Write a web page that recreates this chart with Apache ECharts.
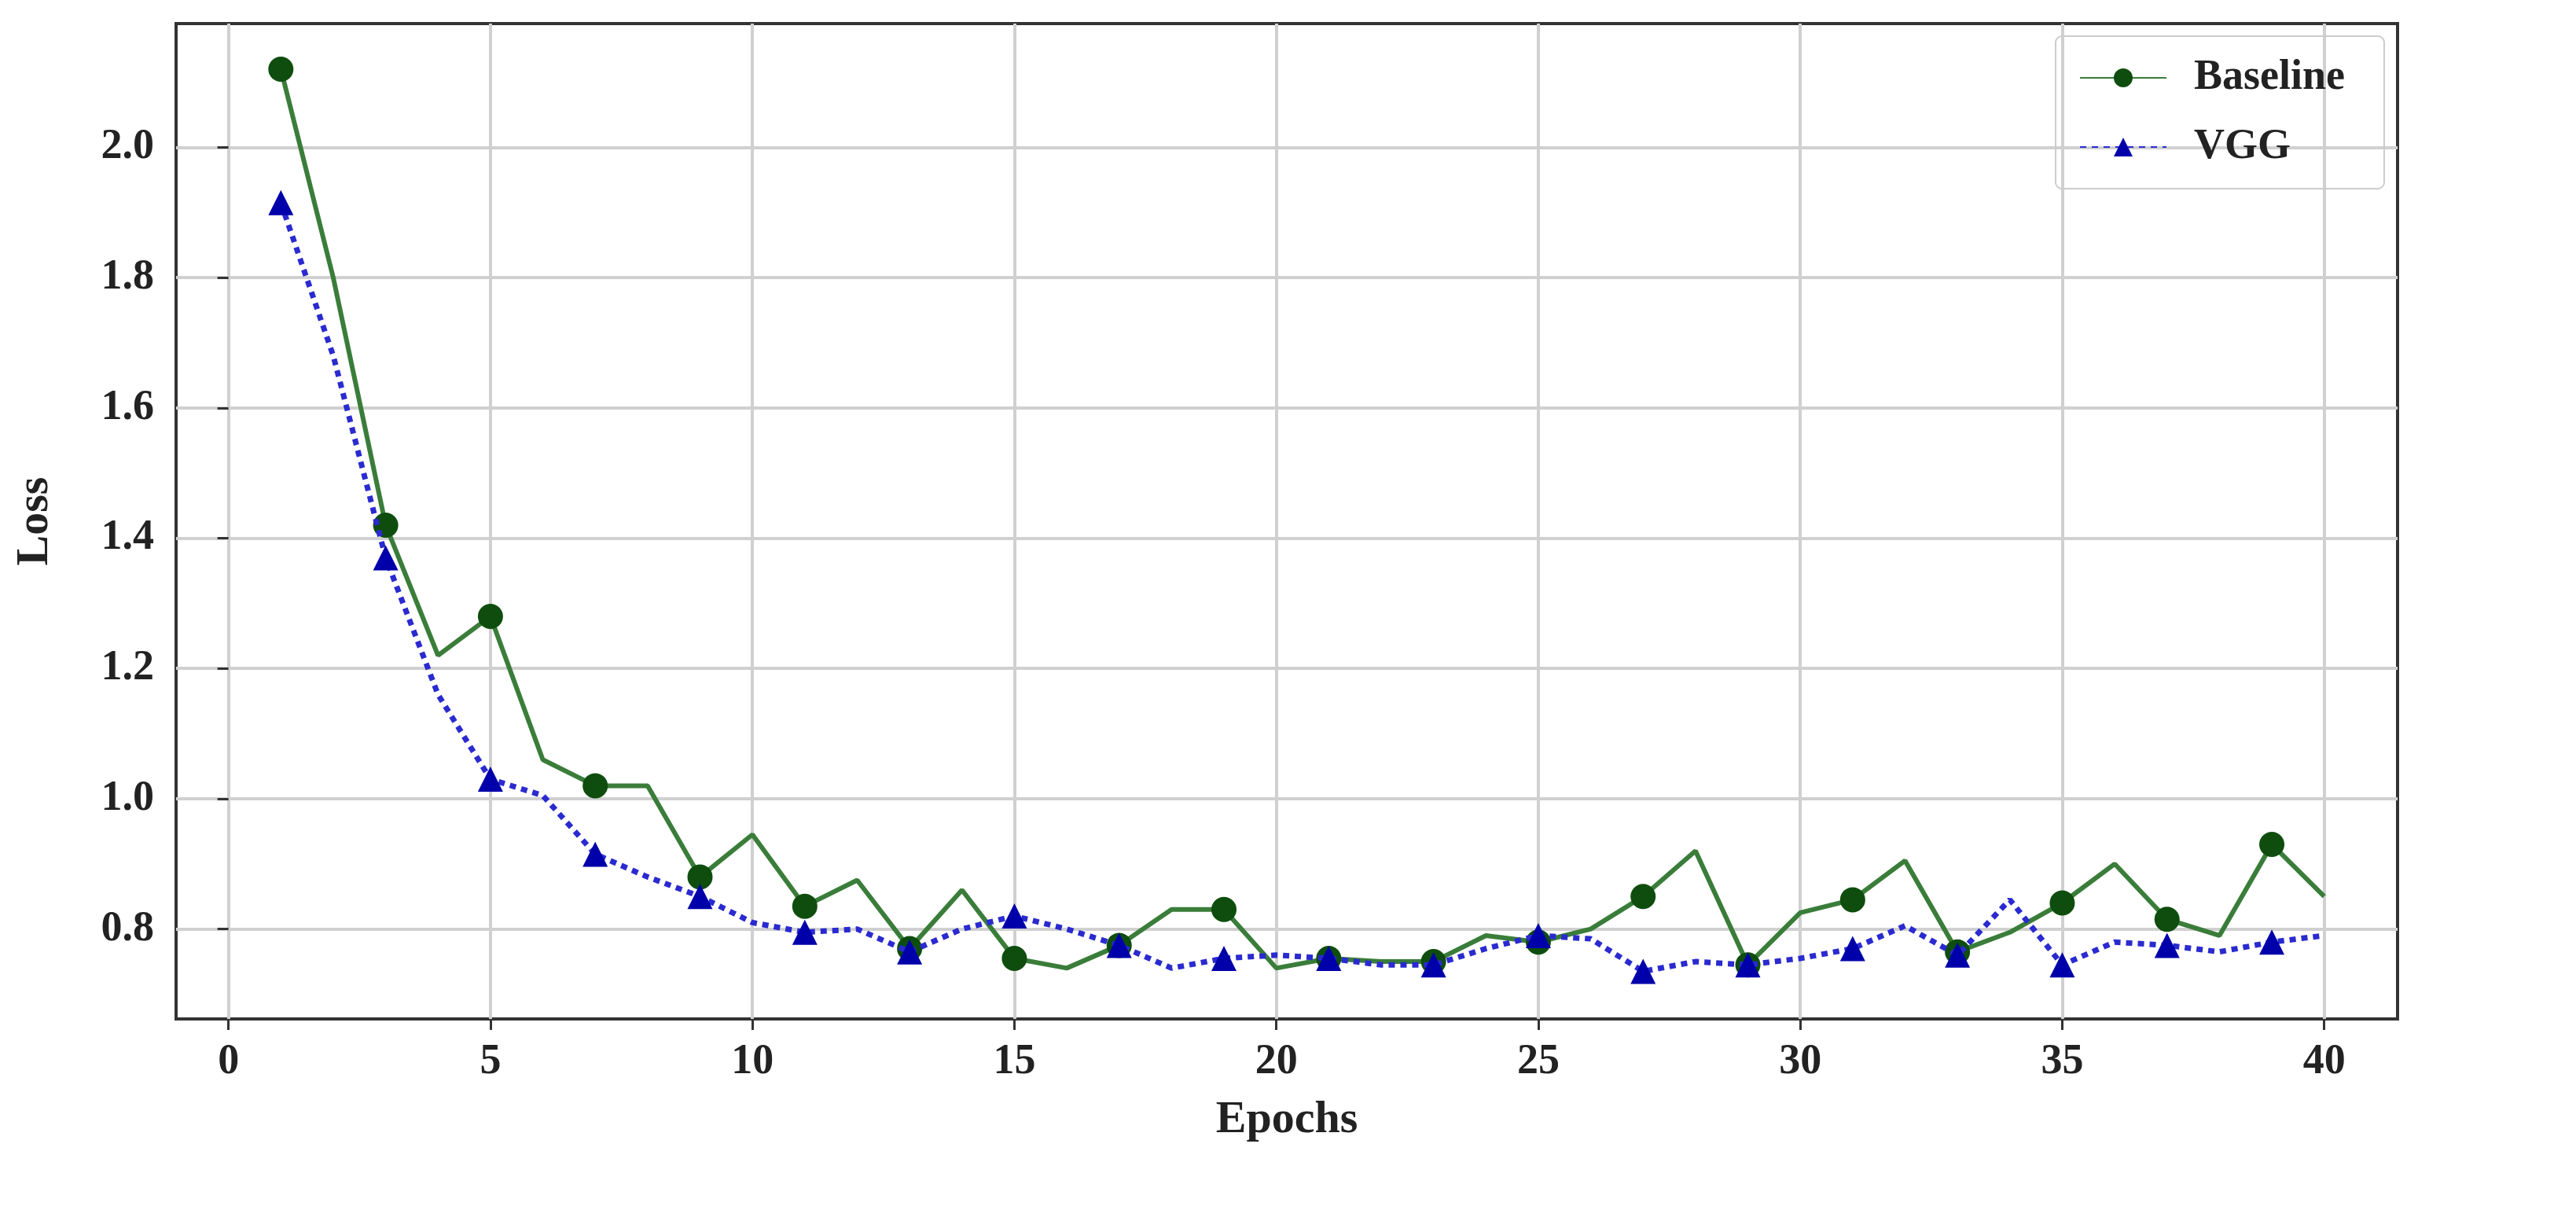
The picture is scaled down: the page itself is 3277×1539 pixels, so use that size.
<!DOCTYPE html>
<html><head><meta charset="utf-8">
<script src="https://cdn.jsdelivr.net/npm/echarts@6/dist/echarts.min.js"></script>
<style>html,body{margin:0;padding:0;background:#fff}#c{width:3277px;height:1539px}</style>
</head><body><div id="c"></div>
<script>
const epochs = [1,2,3,4,5,6,7,8,9,10,11,12,13,14,15,16,17,18,19,20,21,22,23,24,25,26,27,28,29,30,31,32,33,34,35,36,37,38,39,40];
const baseline = [2.12,1.80,1.42,1.22,1.28,1.06,1.02,1.02,0.88,0.945,0.835,0.875,0.77,0.86,0.755,0.74,0.775,0.83,0.83,0.74,0.755,0.75,0.75,0.79,0.78,0.80,0.85,0.92,0.745,0.825,0.845,0.905,0.765,0.795,0.84,0.90,0.815,0.79,0.93,0.85];
const vgg = [1.915,1.68,1.37,1.16,1.03,1.005,0.915,0.88,0.85,0.81,0.795,0.80,0.765,0.80,0.82,0.80,0.775,0.74,0.755,0.76,0.755,0.745,0.745,0.77,0.79,0.785,0.735,0.75,0.745,0.755,0.77,0.805,0.76,0.845,0.745,0.78,0.775,0.765,0.78,0.79];
const yTicks = [0.8,1.0,1.2,1.4,1.6,1.8,2.0];
const xTicks = [0,5,10,15,20,25,30,35,40];

function pts(vals){return epochs.map((e,i)=>({value:[e,vals[i]], symbol: e%2===1 ? undefined : 'none'}));}
const font = 'Liberation Serif';
const chart = echarts.init(document.getElementById('c'));
chart.setOption({
  animation:false,
  backgroundColor:'#fff',
  grid:{left:224,right:227,top:30,bottom:243,show:true,borderColor:'#333',borderWidth:4},
  legend:{right:244,top:46,orient:'vertical',itemWidth:110,itemHeight:30,itemGap:34,padding:[26,50,26,30],
    borderColor:'#ccc',borderWidth:2,borderRadius:8,
    textStyle:{fontFamily:font,fontSize:54,fontWeight:'bold',color:'#222',padding:[0,0,0,30]},
    data:['Baseline','VGG']},
  xAxis:{type:'value',min:-1,max:41.4,name:'Epochs',nameLocation:'middle',nameGap:100,
    nameTextStyle:{fontFamily:font,fontSize:58,fontWeight:'bold',color:'#222'},
    axisLine:{show:false},axisTick:{show:true,length:14,lineStyle:{color:'#333',width:3},customValues:xTicks},
    axisLabel:{fontFamily:font,fontSize:54,fontWeight:'bold',color:'#222',margin:28,customValues:xTicks},
    splitLine:{show:true,lineStyle:{color:'#d0d0d0',width:4}}},
  yAxis:{type:'value',min:0.662,max:2.19,name:'Loss',nameLocation:'middle',nameGap:150,
    nameTextStyle:{fontFamily:font,fontSize:58,fontWeight:'bold',color:'#222'},
    axisLine:{show:false},axisTick:{show:true,length:14,lineStyle:{color:'#333',width:3},customValues:yTicks},
    axisLabel:{fontFamily:font,fontSize:54,fontWeight:'bold',color:'#222',margin:28,customValues:yTicks,formatter:v=>v.toFixed(1)},
    splitLine:{show:true,lineStyle:{color:'#d0d0d0',width:4}}},
  series:[
    {name:'Baseline',type:'line',data:pts(baseline),symbol:'circle',symbolSize:32,
      lineStyle:{color:'#3a7d3a',width:6},itemStyle:{color:'#0e4d0e'},z:3},
    {name:'VGG',type:'line',data:pts(vgg),symbol:'triangle',symbolSize:32,
      lineStyle:{color:'#2a2ad0',width:7,type:[8,7]},itemStyle:{color:'#0000aa'},z:4}
  ]
});
</script></body></html>
